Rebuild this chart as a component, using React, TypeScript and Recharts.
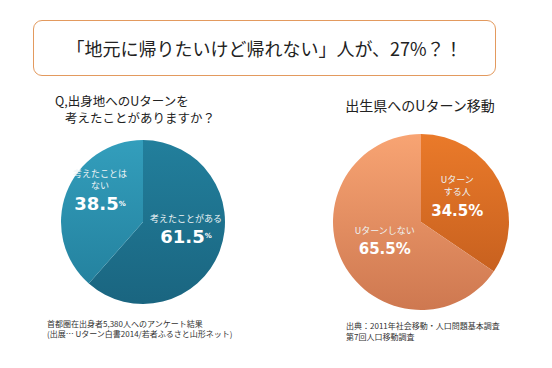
import { PieChart, Pie, Cell } from "recharts";

const leftNames = ["考えたことがある", "考えたことは\nない"];
const leftValues = [61.5, 38.5];
const rightNames = ["Uターン\nする人", "Uターンしない"];
const rightValues = [34.5, 65.5];

const leftData = leftNames.map((name, i) => ({ name, value: leftValues[i] }));
const rightData = rightNames.map((name, i) => ({ name, value: rightValues[i] }));

const FONT = '"Noto Sans CJK JP", "Noto Sans", sans-serif';
const RAD = Math.PI / 180;

// label: name lines stacked above a bold value, placed at a radius along the slice mid angle
function makeLabel(smallPct: boolean, valueSize: number, gap: number, r: number, shift: number) {
  return (props: any) => {
    const { cx, cy, midAngle, payload, value } = props;
    const x = cx + Math.cos(-midAngle * RAD) * r;
    const y = cy + Math.sin(-midAngle * RAD) * r;
    const lines: string[] = String(payload.name).split("\n");
    const valueY = y + shift;
    return (
      <g>
        {lines.map((l, i) => (
          <text
            key={i}
            x={x}
            y={valueY - gap - (lines.length - 1 - i) * 12.5}
            textAnchor="middle"
            dominantBaseline="central"
            fill="#eef4f6"
            fontSize={9}
            fontFamily={FONT}
          >
            {l}
          </text>
        ))}
        <text
          x={x}
          y={valueY}
          textAnchor="middle"
          dominantBaseline="central"
          fill="#ffffff"
          fontFamily='"DejaVu Sans", sans-serif'
          fontWeight="bold"
          fontSize={valueSize}
        >
          {value.toFixed(1)}
          <tspan fontSize={smallPct ? 7 : valueSize}>%</tspan>
        </text>
      </g>
    );
  };
}

export default function App() {
  return (
    <div
      style={{
        position: "absolute",
        left: 0,
        top: 0,
        width: 552,
        height: 368,
        background: "#ffffff",
        fontFamily: FONT,
        color: "#222",
        overflow: "hidden",
      }}
    >
      {/* headline box */}
      <div
        style={{
          position: "absolute",
          left: 33,
          top: 20,
          width: 461,
          height: 54,
          border: "1.5px solid #E39A5E",
          borderRadius: 9,
          display: "flex",
          alignItems: "center",
          justifyContent: "center",
          fontSize: 18,
          color: "#222",
        }}
      >
        「地元に帰りたいけど帰れない」人が、27%？！
      </div>

      <div style={{ position: "absolute", left: 55, top: 92, fontSize: 12.5, lineHeight: "17px", whiteSpace: "nowrap" }}>
        Q,出身地へのUターンを
      </div>
      <div style={{ position: "absolute", left: 65, top: 109, fontSize: 12.5, lineHeight: "17px", whiteSpace: "nowrap" }}>
        考えたことがありますか？
      </div>
      <div
        style={{
          position: "absolute",
          left: 320,
          width: 200,
          top: 96,
          fontSize: 14,
          lineHeight: "18px",
          textAlign: "center",
          whiteSpace: "nowrap",
        }}
      >
        出生県へのUターン移動
      </div>

      <div style={{ position: "absolute", top: 0, left: 0 }}>
        <PieChart width={552} height={368}>
          <defs>
            <linearGradient id="tealA" x1="0" y1="0" x2="0" y2="1">
              <stop offset="0%" stopColor="#227F9C" />
              <stop offset="100%" stopColor="#1A6580" />
            </linearGradient>
            <linearGradient id="tealB" x1="0" y1="0" x2="0" y2="1">
              <stop offset="0%" stopColor="#339EBC" />
              <stop offset="100%" stopColor="#24829F" />
            </linearGradient>
            <linearGradient id="orA" x1="0" y1="0" x2="0" y2="1">
              <stop offset="0%" stopColor="#EA7A2A" />
              <stop offset="100%" stopColor="#C8611F" />
            </linearGradient>
            <linearGradient id="orB" x1="0" y1="0" x2="0" y2="1">
              <stop offset="0%" stopColor="#F8A473" />
              <stop offset="100%" stopColor="#CE7850" />
            </linearGradient>
          </defs>
          <Pie
            data={leftData}
            dataKey="value"
            nameKey="name"
            cx={138}
            cy={217}
            outerRadius={82}
            startAngle={90}
            endAngle={-270}
            stroke="none"
            labelLine={false}
            label={makeLabel(true, 18, 18, 46, -2)}
            isAnimationActive={false}
          >
            <Cell fill="url(#tealA)" />
            <Cell fill="url(#tealB)" />
          </Pie>
          <Pie
            data={rightData}
            dataKey="value"
            nameKey="name"
            cx={416}
            cy={217}
            outerRadius={88}
            startAngle={90}
            endAngle={-270}
            stroke="none"
            labelLine={false}
            label={makeLabel(false, 15, 19, 41, 8)}
            isAnimationActive={false}
          >
            <Cell fill="url(#orA)" />
            <Cell fill="url(#orB)" />
          </Pie>
        </PieChart>
      </div>

      <div style={{ position: "absolute", left: 47, top: 319, fontSize: 8, lineHeight: "10px", whiteSpace: "nowrap", color: "#333" }}>
        首都圏在出身者5,380人へのアンケート結果
        <br />
        (出展… Uターン白書2014/若者ふるさと山形ネット)
      </div>
      <div style={{ position: "absolute", left: 346, top: 320, fontSize: 8, lineHeight: "11px", whiteSpace: "nowrap", color: "#333" }}>
        出典：2011年社会移動・人口問題基本調査
        <br />
        第7回人口移動調査
      </div>
    </div>
  );
}
